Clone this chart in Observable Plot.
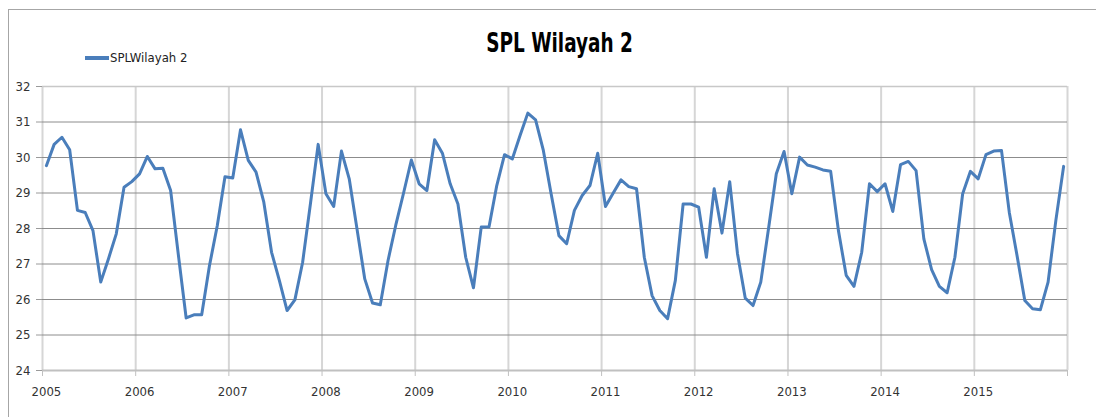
<!DOCTYPE html>
<html>
<head>
<meta charset="utf-8">
<script src="https://cdn.jsdelivr.net/npm/d3@7"></script>
<script src="https://cdn.jsdelivr.net/npm/@observablehq/plot@0.6"></script>
<style>
  html, body { margin: 0; padding: 0; background: #fff; }
  #wrap { position: relative; width: 1096px; height: 417px; overflow: hidden; background: #fff;
          font-family: "DejaVu Sans Condensed", "DejaVu Sans", sans-serif; }
  #border { position: absolute; left: 8px; top: 9px; width: 1200px; height: 500px;
            border-left: 1.5px solid #a6a6a6; border-top: 1.5px solid #a6a6a6; }
  #title { position: absolute; left: 0; width: 1120px; top: 27px; text-align: center; }
  #title span { display: inline-block; font-size: 27px; font-weight: bold; color: #000;
                transform: scaleX(0.76); transform-origin: center; }
  #legend { position: absolute; left: 85px; top: 50px; display: flex; align-items: center;
            font-size: 13px; color: #222; }
  #legend .sw { width: 24px; height: 4px; background: #4a7ebb; margin-right: 1px; }
  #chart { position: absolute; left: 0; top: 0; }
</style>
</head>
<body>
<div id="wrap">
  <div id="border"></div>
  <div id="title"><span>SPL Wilayah 2</span></div>
  <div id="legend"><span class="sw"></span><span>SPLWilayah 2</span></div>
  <div id="chart"></div>
</div>
<script>
// Monthly values (Jan..Dec) per year
const years = [2005, 2006, 2007, 2008, 2009, 2010, 2011, 2012, 2013, 2014, 2015];
const spl2005 = [29.77, 30.37, 30.57, 30.22, 28.51, 28.45, 27.94, 26.49, 27.15, 27.85, 29.16, 29.32];
const spl2006 = [29.54, 30.03, 29.68, 29.70, 29.07, 27.25, 25.48, 25.57, 25.57, 26.95, 28.07, 29.46];
const spl2007 = [29.42, 30.78, 29.92, 29.59, 28.74, 27.33, 26.54, 25.69, 25.99, 27.05, 28.69, 30.37];
const spl2008 = [28.98, 28.62, 30.18, 29.40, 27.99, 26.58, 25.90, 25.85, 27.10, 28.10, 29.00, 29.93];
const spl2009 = [29.26, 29.07, 30.50, 30.12, 29.26, 28.69, 27.19, 26.33, 28.04, 28.04, 29.21, 30.08];
const spl2010 = [29.96, 30.62, 31.25, 31.06, 30.20, 28.98, 27.80, 27.57, 28.51, 28.93, 29.21, 30.12];
const spl2011 = [28.62, 29.00, 29.37, 29.18, 29.12, 27.19, 26.11, 25.69, 25.46, 26.54, 28.69, 28.69];
const spl2012 = [28.60, 27.19, 29.12, 27.87, 29.32, 27.29, 26.04, 25.83, 26.49, 28.00, 29.54, 30.17];
const spl2013 = [28.98, 30.01, 29.79, 29.73, 29.65, 29.61, 27.94, 26.68, 26.37, 27.33, 29.26, 29.04];
const spl2014 = [29.26, 28.48, 29.80, 29.89, 29.63, 27.71, 26.84, 26.37, 26.19, 27.19, 28.98, 29.61];
const spl2015 = [29.40, 30.08, 30.18, 30.20, 28.46, 27.24, 25.97, 25.74, 25.71, 26.49, 28.23, 29.75];
const yTicks = [24, 25, 26, 27, 28, 29, 30, 31, 32];

const series = [spl2005, spl2006, spl2007, spl2008, spl2009, spl2010, spl2011, spl2012, spl2013, spl2014, spl2015];
// category axis: each month occupies a slot, point in the middle of its slot
const data = [];
series.forEach((vals, yi) => vals.forEach((v, m) => data.push({t: years[yi] + (m + 0.5) / 12, v})));
const boundaries = [...years, years[years.length - 1] + 1];
const labelPos = years.map(y => y + 0.5 / 12);

const chart = Plot.plot({
  width: 1096,
  height: 417,
  marginLeft: 42,
  marginRight: 29,
  marginTop: 86,
  marginBottom: 47,
  style: {background: "transparent", color: "#404040", fontFamily: '"DejaVu Sans Condensed", "DejaVu Sans", sans-serif', fontSize: "13px"},
  x: {type: "linear", domain: [years[0], years[years.length - 1] + 1], label: null},
  y: {domain: [24, 32], label: null},
  marks: [
    Plot.gridX(boundaries, {stroke: "#d6d6d6", strokeWidth: 2, strokeOpacity: 1}),
    Plot.gridY(yTicks.filter(d => d > 24 && d < 32), {stroke: "#8c8c8c", strokeWidth: 1, strokeOpacity: 1}),
    Plot.ruleY([32], {stroke: "#c8c8c8", strokeWidth: 1.5}),
    Plot.ruleY([24], {stroke: "#c0c0c0", strokeWidth: 2}),
    Plot.axisY(yTicks, {tickSize: 6, tickPadding: 6, stroke: "#9a9a9a", fill: "#333", fontSize: 13, label: null}),
    Plot.axisX(boundaries, {tickSize: 6, tickFormat: () => "", stroke: "#c0c0c0", label: null}),
    Plot.axisX(labelPos, {tickSize: 0, tickPadding: 16, tickFormat: (d, i) => String(years[i]), fill: "#333", fontSize: 13, label: null}),
    Plot.line(data, {x: "t", y: "v", stroke: "#4a7ebb", strokeWidth: 3, strokeLinejoin: "round"})
  ]
});
document.getElementById("chart").appendChild(chart);
</script>
</body>
</html>
